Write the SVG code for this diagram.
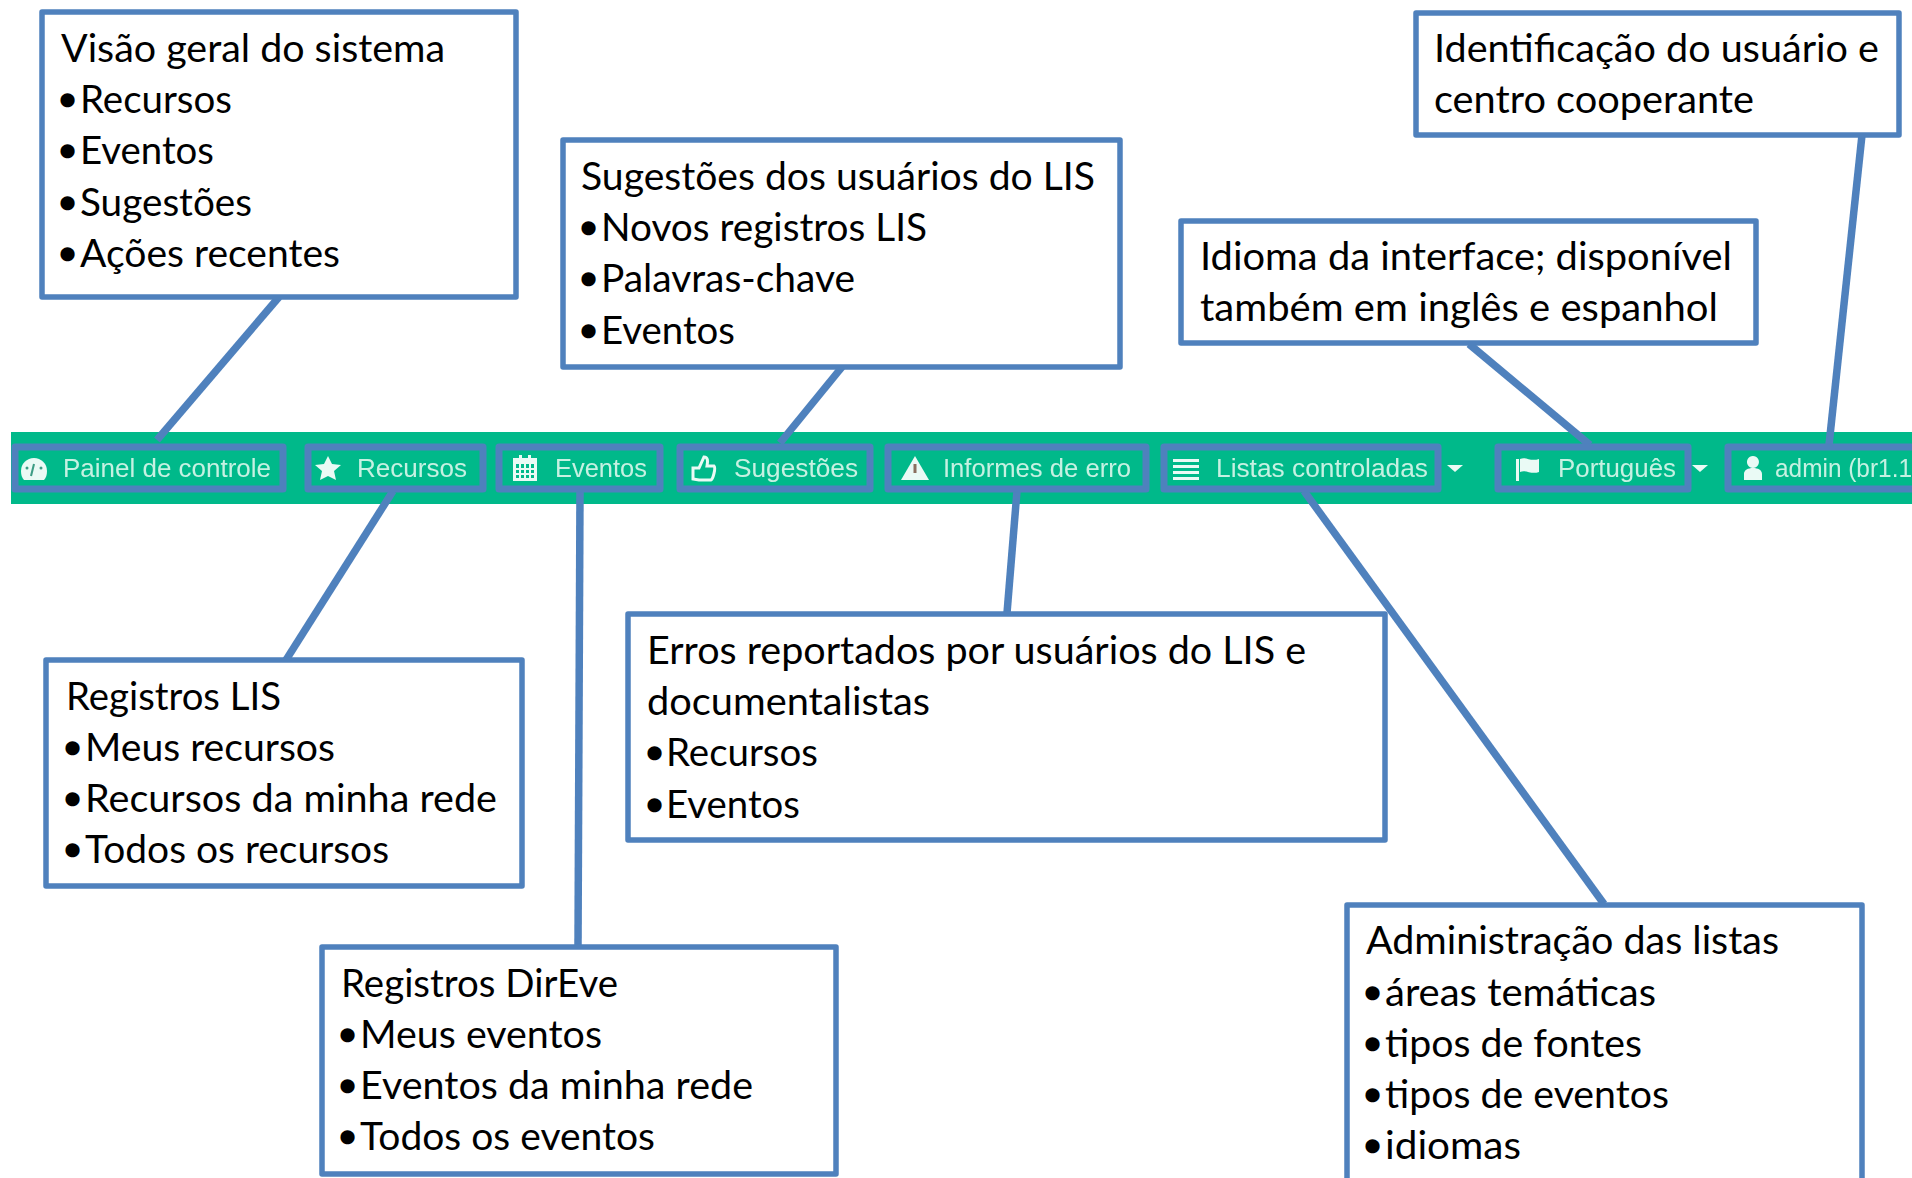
<svg xmlns="http://www.w3.org/2000/svg" width="1912" height="1178" viewBox="0 0 1912 1178">
<defs><filter id="soft" x="-5%" y="-30%" width="110%" height="160%"><feGaussianBlur stdDeviation="0.75"/></filter></defs>
<style>
.box{fill:#fff;stroke:#4f81bd;stroke-width:5.5;stroke-linejoin:round}
.hl{fill:none;stroke:#4f81bd;stroke-width:7;stroke-linejoin:round}
.con{stroke:#4f81bd;stroke-width:7.5;fill:none}
text{font-family:"Lato","Carlito","Open Sans",sans-serif;font-size:38px;fill:#000}
.b{font-family:"Liberation Sans",sans-serif;font-size:43px;stroke:#000;stroke-width:2.5}
.nav{font-family:"Liberation Sans",Arial,sans-serif;font-size:25px;fill:#c6f1e2}
.ic{fill:#eafaf5}
</style>
<rect x="11" y="432" width="1901" height="72" fill="#00b98a"/>
<g id="connectors">
<line class="con" x1="279" y1="297" x2="157" y2="440"/>
<line class="con" x1="393" y1="491" x2="286" y2="660"/>
<line class="con" x1="580" y1="491" x2="578" y2="946"/>
<line class="con" x1="842" y1="367" x2="780" y2="443"/>
<line class="con" x1="1017" y1="491" x2="1007" y2="613"/>
<line class="con" x1="1304" y1="491" x2="1604" y2="904"/>
<line class="con" x1="1469" y1="344" x2="1590" y2="445"/>
<line class="con" x1="1862" y1="135" x2="1829" y2="445"/>
</g>
<g id="navbar">
<g id="nav-painel"><rect class="hl" x="15" y="447" width="268" height="42"/>
<path class="ic" d="M21 471a13 13 0 1 1 26 0c0 4-1 7-3 9h-20c-2-2-3-5-3-9z"/><path d="M34 464l-3 12" stroke="#3c9c84" stroke-width="2"/><circle cx="27" cy="468" r="1.500" fill="#3c9c84"/><circle cx="41" cy="468" r="1.500" fill="#3c9c84"/><text class="nav" filter="url(#soft)" x="63" y="477" textLength="208" lengthAdjust="spacingAndGlyphs">Painel de controle</text></g>
<g id="nav-recursos"><rect class="hl" x="308" y="447" width="175" height="42"/>
<path class="ic" d="M328 456l4 8 9 1-7 6 2 9-8-4-8 4 2-9-7-6 9-1z"/><text class="nav" filter="url(#soft)" x="357" y="477" textLength="110" lengthAdjust="spacingAndGlyphs">Recursos</text></g>
<g id="nav-eventos"><rect class="hl" x="499" y="447" width="161" height="42"/>
<path class="ic" fill-rule="evenodd" d="M513 458h24v23h-24zM516 464v14h18v-14z"/><path class="ic" d="M519 455h3v6h-3zM528 455h3v6h-3zM519 464h2v14h-2zM524 464h2v14h-2zM529 464h2v14h-2zM516 468h18v2h-18zM516 473h18v2h-18z"/><text class="nav" filter="url(#soft)" x="555" y="477" textLength="92" lengthAdjust="spacingAndGlyphs">Eventos</text></g>
<g id="nav-sugestoes"><rect class="hl" x="680" y="447" width="190" height="42"/>
<path d="M693 468h6l5-11c4 0 4 4 3 9h7c2 2-1 13-3 14h-12l-6-1z" fill="none" stroke="#eafaf5" stroke-width="3"/><text class="nav" filter="url(#soft)" x="734" y="477" textLength="124" lengthAdjust="spacingAndGlyphs">Sugestões</text></g>
<g id="nav-informes"><rect class="hl" x="888" y="447" width="258" height="42"/>
<path class="ic" d="M915 456l14 24h-28z"/><rect x="913.500" y="464" width="3" height="9" fill="#8a6f5f"/><text class="nav" filter="url(#soft)" x="943" y="477" textLength="188" lengthAdjust="spacingAndGlyphs">Informes de erro</text></g>
<g id="nav-listas"><rect class="hl" x="1164" y="447" width="274" height="42"/>
<path class="ic" d="M1173 459h26v3h-26zM1173 465h26v3h-26zM1173 471h26v3h-26zM1173 477h26v3h-26z"/><text class="nav" filter="url(#soft)" x="1216" y="477" textLength="212" lengthAdjust="spacingAndGlyphs">Listas controladas</text></g>
<path class="ic" d="M1447 465h16l-8 7z"/>
<g id="nav-idioma"><rect class="hl" x="1498" y="447" width="190" height="42"/>
<path class="ic" d="M1516 459h3v22h-3zM1520 459c6-3 10 3 19 0v13c-8 3-13-3-19 0z"/><text class="nav" filter="url(#soft)" x="1558" y="477" textLength="118" lengthAdjust="spacingAndGlyphs">Português</text></g>
<path class="ic" d="M1692 465h16l-8 7z"/>
<g id="nav-admin"><rect class="hl" x="1728" y="447" width="200" height="42"/>
<path class="ic" d="M1753 456a6 6 0 1 1-.1 0zM1744 480v-6c0-4 4-6 9-6s9 2 9 6v6z"/><text class="nav" filter="url(#soft)" x="1775" y="477" textLength="137" lengthAdjust="spacingAndGlyphs">admin (br1.1</text></g>
</g>
<g id="callout-visao"><rect class="box" x="42" y="12" width="474" height="285"/>
<text x="61" y="62" textLength="384" lengthAdjust="spacingAndGlyphs">Visão geral do sistema</text>
<text class="b" x="60" y="114">•</text><text x="80" y="113" textLength="152" lengthAdjust="spacingAndGlyphs">Recursos</text>
<text class="b" x="60" y="165">•</text><text x="80" y="164" textLength="134" lengthAdjust="spacingAndGlyphs">Eventos</text>
<text class="b" x="60" y="217">•</text><text x="80" y="216" textLength="172" lengthAdjust="spacingAndGlyphs">Sugestões</text>
<text class="b" x="60" y="268">•</text><text x="80" y="267" textLength="260" lengthAdjust="spacingAndGlyphs">Ações recentes</text></g>
<g id="callout-sugestoes"><rect class="box" x="563" y="140" width="557" height="227"/>
<text x="581" y="190" textLength="514" lengthAdjust="spacingAndGlyphs">Sugestões dos usuários do LIS</text>
<text class="b" x="581" y="242">•</text><text x="601" y="241" textLength="326" lengthAdjust="spacingAndGlyphs">Novos registros LIS</text>
<text class="b" x="581" y="293">•</text><text x="601" y="292" textLength="254" lengthAdjust="spacingAndGlyphs">Palavras-chave</text>
<text class="b" x="581" y="345">•</text><text x="601" y="344" textLength="134" lengthAdjust="spacingAndGlyphs">Eventos</text></g>
<g id="callout-idioma"><rect class="box" x="1181" y="221" width="575" height="122"/>
<text x="1200" y="270" textLength="532" lengthAdjust="spacingAndGlyphs">Idioma da interface; disponível</text>
<text x="1200" y="321" textLength="518" lengthAdjust="spacingAndGlyphs">também em inglês e espanhol</text></g>
<g id="callout-usuario"><rect class="box" x="1416" y="13" width="483" height="122"/>
<text x="1434" y="62" textLength="445" lengthAdjust="spacingAndGlyphs">Identificação do usuário e</text>
<text x="1434" y="113" textLength="320" lengthAdjust="spacingAndGlyphs">centro cooperante</text></g>
<g id="callout-lis"><rect class="box" x="46" y="660" width="476" height="226"/>
<text x="66" y="710" textLength="215" lengthAdjust="spacingAndGlyphs">Registros LIS</text>
<text class="b" x="65" y="762">•</text><text x="85" y="761" textLength="250" lengthAdjust="spacingAndGlyphs">Meus recursos</text>
<text class="b" x="65" y="813">•</text><text x="85" y="812" textLength="412" lengthAdjust="spacingAndGlyphs">Recursos da minha rede</text>
<text class="b" x="65" y="864">•</text><text x="85" y="863" textLength="304" lengthAdjust="spacingAndGlyphs">Todos os recursos</text></g>
<g id="callout-direve"><rect class="box" x="322" y="947" width="514" height="227"/>
<text x="341" y="997" textLength="277" lengthAdjust="spacingAndGlyphs">Registros DirEve</text>
<text class="b" x="340" y="1049">•</text><text x="360" y="1048" textLength="242" lengthAdjust="spacingAndGlyphs">Meus eventos</text>
<text class="b" x="340" y="1100">•</text><text x="360" y="1099" textLength="393" lengthAdjust="spacingAndGlyphs">Eventos da minha rede</text>
<text class="b" x="340" y="1151">•</text><text x="360" y="1150" textLength="295" lengthAdjust="spacingAndGlyphs">Todos os eventos</text></g>
<g id="callout-erros"><rect class="box" x="628" y="614" width="757" height="226"/>
<text x="647" y="664" textLength="659" lengthAdjust="spacingAndGlyphs">Erros reportados por usuários do LIS e</text>
<text x="647" y="715" textLength="283" lengthAdjust="spacingAndGlyphs">documentalistas</text>
<text class="b" x="647" y="767">•</text><text x="666" y="766" textLength="152" lengthAdjust="spacingAndGlyphs">Recursos</text>
<text class="b" x="647" y="819">•</text><text x="666" y="818" textLength="134" lengthAdjust="spacingAndGlyphs">Eventos</text></g>
<g id="callout-listas"><rect class="box" x="1347" y="905" width="515" height="285"/>
<text x="1366" y="954" textLength="413" lengthAdjust="spacingAndGlyphs">Administração das listas</text>
<text class="b" x="1365" y="1007">•</text><text x="1385" y="1006" textLength="271" lengthAdjust="spacingAndGlyphs">áreas temáticas</text>
<text class="b" x="1365" y="1058">•</text><text x="1385" y="1057" textLength="257" lengthAdjust="spacingAndGlyphs">tipos de fontes</text>
<text class="b" x="1365" y="1109">•</text><text x="1385" y="1108" textLength="284" lengthAdjust="spacingAndGlyphs">tipos de eventos</text>
<text class="b" x="1365" y="1160">•</text><text x="1385" y="1159" textLength="136" lengthAdjust="spacingAndGlyphs">idiomas</text></g>
</svg>
